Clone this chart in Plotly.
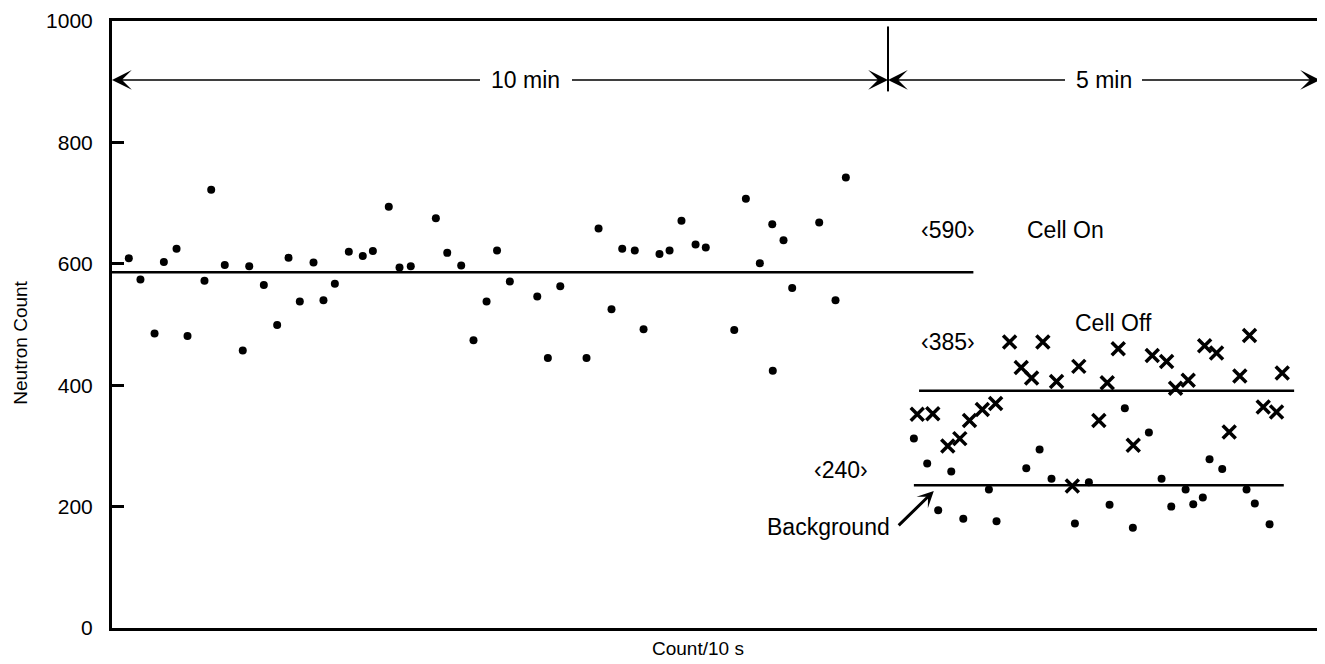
import plotly.graph_objects as go

# ---- data (x in seconds from start, y = neutron count per 10 s) ----
on_x = [13.0, 22.0, 32.9, 40.1, 49.9, 58.4, 71.5, 76.7, 87.2, 101.1, 106.1, 117.4, 127.7, 136.5,
        145.2, 155.8, 163.5, 172.3, 183.1, 193.9, 201.7, 214.0, 222.3, 231.0, 250.4, 259.2,
        270.0, 279.5, 289.6, 297.7, 307.6, 328.8, 337.0, 346.6, 366.9, 376.2, 386.2, 394.5,
        404.2, 411.0, 423.3, 431.1, 440.3, 451.2, 459.1, 481.1, 490.1, 500.9, 510.5, 510.9,
        519.2, 525.9, 546.8, 559.4, 567.4]
on_y = [609, 574, 485, 603, 625, 481, 572, 722, 598, 457, 596, 565, 499, 610,
        538, 602, 540, 567, 620, 613, 621, 694, 594, 596, 675, 618,
        597, 474, 538, 622, 571, 546, 445, 563, 445, 658, 525, 625,
        622, 492, 616, 622, 671, 632, 627, 491, 707, 601, 665, 424,
        639, 560, 668, 540, 742]

off_x = [622.6, 634.6, 646.2, 655.5, 663.0, 672.9, 683.2, 694.0, 703.0, 711.0, 719.7, 730.3,
         742.5, 747.5, 763.0, 769.5, 778.0, 789.6, 804.3, 815.4, 822.3, 832.1, 844.8, 854.0,
         863.8, 872.0, 879.5, 890.1, 900.4, 904.8]
off_y = [352, 353, 300, 312, 342, 360, 370, 471, 429, 412, 471, 406,
         234, 431, 342, 404, 460, 301, 449, 439, 395, 408, 465, 453,
         323, 415, 482, 364, 356, 420]

bg_x = [620.0, 630.3, 638.8, 648.9, 658.2, 678.0, 683.9, 706.9, 717.2, 726.4, 744.5, 755.3,
        771.3, 783.1, 789.3, 801.7, 811.5, 819.0, 830.1, 836.0, 843.4, 848.6, 858.4, 877.2,
        883.6, 895.0]
bg_y = [312, 271, 194, 258, 180, 228, 176, 263, 294, 246, 172, 240,
        203, 362, 165, 322, 246, 200, 228, 204, 215, 278, 262, 228,
        205, 171]

mean_names = ["Cell On", "Cell Off", "Background"]
mean_vals = [586, 391, 235]
mean_x0 = [0, 624, 620]
mean_x1 = [666, 914, 906]
mean_labels = ["\u2039590\u203a", "\u2039385\u203a", "\u2039240\u203a"]

y_ticks = [0, 200, 400, 600, 800, 1000]

FONT = "Liberation Sans, Arial, sans-serif"
fig = go.Figure()

for name, v, a, b in zip(mean_names, mean_vals, mean_x0, mean_x1):
    fig.add_trace(go.Scatter(x=[a, b], y=[v, v], mode="lines",
                             line=dict(color="black", width=2.5), showlegend=False,
                             hoverinfo="skip"))

fig.add_trace(go.Scatter(x=on_x, y=on_y, mode="markers", name="Cell On",
                         marker=dict(symbol="circle", size=8, color="black"), showlegend=False))
fig.add_trace(go.Scatter(x=bg_x, y=bg_y, mode="markers", name="Background",
                         marker=dict(symbol="circle", size=8, color="black"), showlegend=False))
fig.add_trace(go.Scatter(x=off_x, y=off_y, mode="markers", name="Cell Off",
                         marker=dict(symbol="x-thin", size=13, color="black",
                                     line=dict(color="black", width=3.5)), showlegend=False))

# divider between the two periods
fig.add_shape(type="line", x0=600, x1=600, y0=884, y1=991,
              line=dict(color="black", width=2))

# time-span arrows
arrows = [(285.7, 0), (354.5, 600), (738, 600), (795.2, 934)]
for tail, head in arrows:
    fig.add_annotation(x=head, y=903, ax=tail, ay=903, xref="x", yref="y",
                       axref="x", ayref="y", text="", showarrow=True,
                       arrowhead=3, arrowsize=2.2, arrowwidth=1.5, arrowcolor="black",
                       standoff=0, startstandoff=0)

txt = dict(color="black", size=23, family=FONT)
fig.add_annotation(x=319.7, y=903, text="10 min", showarrow=False, font=txt)
fig.add_annotation(x=766.9, y=903, text="5 min", showarrow=False, font=txt)

fig.add_annotation(x=646.4, y=655, text=mean_labels[0], showarrow=False, font=txt)
fig.add_annotation(x=737.0, y=655, text="Cell On", showarrow=False, font=txt)
fig.add_annotation(x=646.4, y=472, text=mean_labels[1], showarrow=False, font=txt)
fig.add_annotation(x=774.4, y=503, text="Cell Off", showarrow=False, font=txt)
fig.add_annotation(x=563.9, y=261, text=mean_labels[2], showarrow=False, font=txt)
fig.add_annotation(x=603, y=167, text="Background", showarrow=False, font=txt,
                   xanchor="right")
fig.add_annotation(x=635.4, y=225.5, ax=607.1, ay=166.7, xref="x", yref="y",
                   axref="x", ayref="y", text="", showarrow=True,
                   arrowhead=3, arrowsize=0.9, arrowwidth=3, arrowcolor="black",
                   standoff=0, startstandoff=0)

# axis titles
fig.add_annotation(xref="paper", yref="paper", x=0, y=0.47, xshift=-91, textangle=-90,
                   text="Neutron Count", showarrow=False, xanchor="center", yanchor="middle",
                   font=dict(size=19, family=FONT, color="black"))
fig.add_annotation(xref="paper", yref="paper", x=0.485, y=0, yshift=-20,
                   text="Count/10 s", showarrow=False, xanchor="center", yanchor="middle",
                   font=dict(size=19, family=FONT, color="black"))

# the page body adds an 8 px margin, so the figure is 8 px smaller each way
fig.update_layout(
    width=1317, height=656,
    margin=dict(l=104, r=5, t=13, b=36),
    paper_bgcolor="white", plot_bgcolor="white",
    font=dict(family=FONT, color="black", size=18),
    showlegend=False,
)
fig.update_xaxes(range=[0, 934], showgrid=False, zeroline=False, showticklabels=False,
                 ticks="", showline=True, linecolor="black", linewidth=3, mirror=True,
                 automargin=False)
fig.update_yaxes(range=[0, 1000], tickvals=y_ticks, showgrid=False, zeroline=False,
                 ticks="inside", ticklen=12, tickwidth=2.5, tickcolor="black",
                 showline=True, linecolor="black", linewidth=3, mirror=True,
                 tickfont=dict(size=21, family=FONT), ticklabelstandoff=12,
                 automargin=False)

fig.write_html("out.html")
